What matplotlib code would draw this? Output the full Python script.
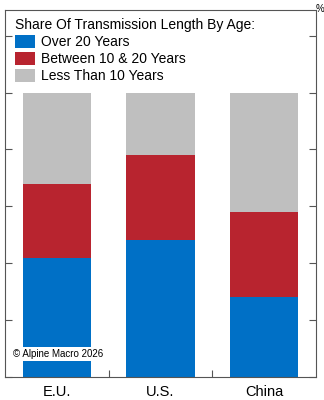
import matplotlib.pyplot as plt
from matplotlib.patches import Patch
from matplotlib.ticker import MultipleLocator, FixedLocator

plt.rcParams['font.family'] = ['Liberation Sans', 'DejaVu Sans']

regions = ["E.U.", "U.S.", "China"]
over_20 = [42, 48, 28]
between_10_20 = [26, 30, 30]
less_10 = [32, 22, 42]

series_names = ["Over 20 Years", "Between 10 & 20 Years", "Less Than 10 Years"]
colors = ["#0070c6", "#b8242f", "#bfbfbf"]

fig = plt.figure(figsize=(3.24, 4.0), dpi=100)
ax = fig.add_axes([5 / 324, 23 / 400, 311 / 324, 367 / 400])

x = range(len(regions))
bottom = [0] * len(regions)
for vals, col in zip([over_20, between_10_20, less_10], colors):
    ax.bar(x, vals, width=0.66, bottom=bottom, color=col, edgecolor="none", zorder=2)
    bottom = [b + v for b, v in zip(bottom, vals)]

ax.set_xlim(-0.5, 2.5)
ax.set_ylim(0, 129)

# y ticks on both sides, inward, no labels
ax.yaxis.set_major_locator(MultipleLocator(20))
ax.tick_params(axis="y", which="both", direction="in", left=True, right=True,
               labelleft=False, labelright=False, length=5, width=0.8, color="#555555")

# x: labels at the bar centres, small marks between categories
ax.set_xticks(list(x))
ax.set_xticklabels(regions, fontsize=10.5)
ax.tick_params(axis="x", which="major", length=0, pad=6)
ax.xaxis.set_minor_locator(FixedLocator([0.5, 1.5]))
ax.tick_params(axis="x", which="minor", direction="in", length=5, width=0.8, color="#555555")

for s in ax.spines.values():
    s.set_linewidth(0.8)
    s.set_color("#555555")

handles = [Patch(facecolor=c, edgecolor="none") for c in colors]
leg = ax.legend(handles, series_names, title="Share Of Transmission Length By Age:",
                loc="upper left", bbox_to_anchor=(0.0, 1.005), frameon=False,
                fontsize=10, title_fontsize=10, handlelength=1.45, handleheight=1.1,
                handletextpad=0.45, labelspacing=0.2, borderpad=0.2)
leg._legend_box.align = "left"

fig.text(316 / 324, 391 / 400, "%", fontsize=7, ha="left", va="center")

ax.text(0.027, 0.063, "\u00a9 Alpine Macro 2026", transform=ax.transAxes, fontsize=7,
        ha="left", va="center", zorder=5,
        bbox=dict(facecolor="white", edgecolor="none", pad=1.5))

fig.savefig("out.png", dpi=100)
